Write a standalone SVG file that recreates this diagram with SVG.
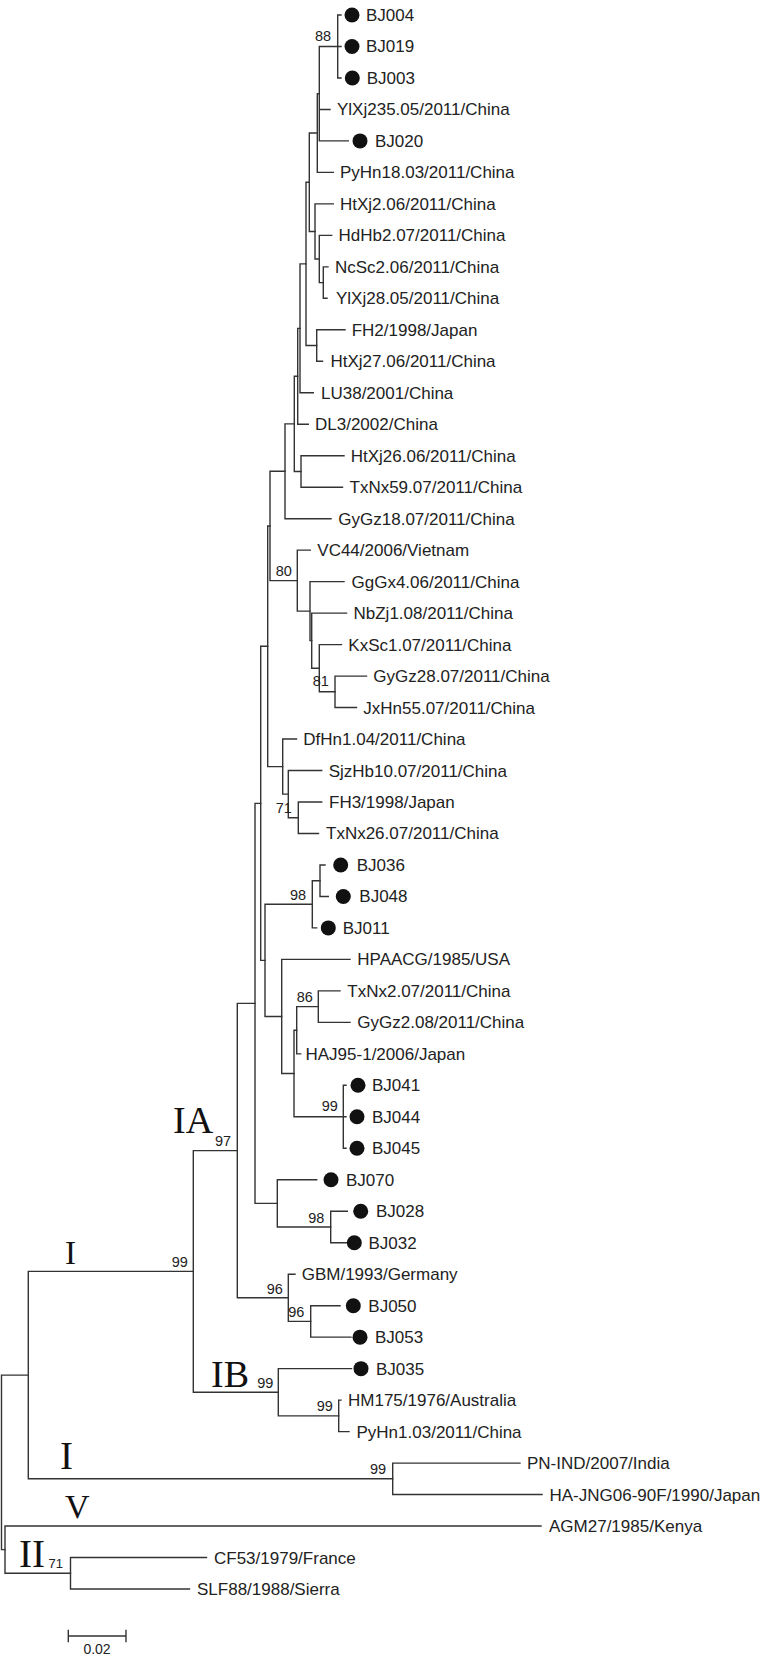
<svg xmlns="http://www.w3.org/2000/svg" width="762" height="1655" viewBox="0 0 762 1655">
<style>
.br{fill:none;stroke:#333;stroke-width:1.4;stroke-linecap:square}
.lb{font-family:"Liberation Sans",Arial,sans-serif;font-size:17px;fill:#222}
.bs{font-family:"Liberation Sans",Arial,sans-serif;font-size:14.5px;fill:#222}
.cl{font-family:"Liberation Serif","Times New Roman",serif;fill:#111}
.dot{fill:#111}
.sc{font-family:"Liberation Sans",Arial,sans-serif;font-size:14px;fill:#222}
</style>
<rect width="762" height="1655" fill="#fff"/>
<g id="branches" class="br">
<path d="M337.7,15V77.96M337.7,15H341M337.7,46.48H341M337.7,77.96H341"/>
<path d="M319.3,46.48V140.92M319.3,46.48H337.7M319.3,109.44H330M319.3,140.92H348.3"/>
<path d="M317.3,93.7V172.4M317.3,93.7H319.3M317.3,172.4H333.3"/>
<path d="M323.3,266.84V298.32M323.3,266.84H328M323.3,298.32H327"/>
<path d="M319.3,235.36V282.58M319.3,235.36H331.7M319.3,282.58H323.3"/>
<path d="M315,203.88V258.97M315,203.88H333.3M315,258.97H319.3"/>
<path d="M309.3,133.05V231.43M309.3,133.05H317.3M309.3,231.43H315"/>
<path d="M316.7,329.8V361.28M316.7,329.8H345M316.7,361.28H322.5"/>
<path d="M306,182.24V345.54M306,182.24H309.3M306,345.54H316.7"/>
<path d="M300,263.89V392.76M300,263.89H306M300,392.76H313.3"/>
<path d="M297.7,328.33V424.24M297.7,328.33H300M297.7,424.24H308.3"/>
<path d="M301,455.72V487.2M301,455.72H344M301,487.2H342.5"/>
<path d="M294.3,376.28V471.46M294.3,376.28H297.7M294.3,471.46H301"/>
<path d="M285,423.87V518.68M285,423.87H294.3M285,518.68H331"/>
<path d="M335,676.08V707.56M335,676.08H366.5M335,707.56H356.5"/>
<path d="M319.3,644.6V691.82M319.3,644.6H341.5M319.3,691.82H335"/>
<path d="M311.7,613.12V668.21M311.7,613.12H346.5M311.7,668.21H319.3"/>
<path d="M310,581.64V640.67M310,581.64H344M310,640.67H311.7"/>
<path d="M297.3,550.16V611.16M297.3,550.16H310.3M297.3,611.16H310"/>
<path d="M270,471.28V580.66M270,471.28H285M270,580.66H297.3"/>
<path d="M298.3,802V833.48M298.3,802H321.7M298.3,833.48H318.5"/>
<path d="M288.3,770.52V817.74M288.3,770.52H321.7M288.3,817.74H298.3"/>
<path d="M282.7,739.04V794.13M282.7,739.04H296.5M282.7,794.13H288.3"/>
<path d="M267.7,525.97V766.59M267.7,525.97H270M267.7,766.59H282.7"/>
<path d="M320,864.96V896.44M320,864.96H325M320,896.44H328.3"/>
<path d="M312.3,880.7V927.92M312.3,880.7H320M312.3,927.92H316.7"/>
<path d="M318.3,990.88V1022.36M318.3,990.88H340M318.3,1022.36H350"/>
<path d="M296.7,1006.62V1053.84M296.7,1006.62H318.3M296.7,1053.84H300.7"/>
<path d="M343.3,1085.32V1148.28M343.3,1085.32H346M343.3,1116.8H346M343.3,1148.28H346"/>
<path d="M294,1030.23V1116.8M294,1030.23H296.7M294,1116.8H343.3"/>
<path d="M281.7,959.4V1073.52M281.7,959.4H350M281.7,1073.52H294"/>
<path d="M265,904.31V1016.46M265,904.31H312.3M265,1016.46H281.7"/>
<path d="M260.7,646.28V960.39M260.7,646.28H267.7M260.7,960.39H265"/>
<path d="M330.7,1211.24V1242.72M330.7,1211.24H347.3M330.7,1242.72H346.7"/>
<path d="M277.3,1179.76V1226.98M277.3,1179.76H316.7M277.3,1226.98H330.7"/>
<path d="M255,803.34V1203.37M255,803.34H260.7M255,1203.37H277.3"/>
<path d="M310.7,1305.68V1337.16M310.7,1305.68H340M310.7,1337.16H351"/>
<path d="M288.3,1274.2V1321.42M288.3,1274.2H295M288.3,1321.42H310.7"/>
<path d="M237.3,1003.36V1297.81M237.3,1003.36H255M237.3,1297.81H288.3"/>
<path d="M338.7,1400.12V1431.6M338.7,1400.12H341M338.7,1431.6H349"/>
<path d="M278.3,1368.64V1415.86M278.3,1368.64H351.5M278.3,1415.86H338.7"/>
<path d="M193.3,1150.59V1392.25M193.3,1150.59H237.3M193.3,1392.25H278.3"/>
<path d="M392.7,1463.08V1494.56M392.7,1463.08H520M392.7,1494.56H542"/>
<path d="M28.3,1271.42V1478.82M28.3,1271.42H193.3M28.3,1478.82H392.7"/>
<path d="M70.5,1557.52V1589M70.5,1557.52H206.5M70.5,1589H189.5"/>
<path d="M5,1526.04V1573.26M5,1526.04H541M5,1573.26H70.5"/>
<path d="M1.5,1375.12V1549.65M1.5,1375.12H28.3M1.5,1549.65H5"/>
</g>
<g id="leaves">
<g id="n0"><circle class="dot" cx="352" cy="15" r="7.5"/><text class="lb" x="366" y="21">BJ004</text></g>
<g id="n1"><circle class="dot" cx="352" cy="46.48" r="7.5"/><text class="lb" x="366" y="52.48">BJ019</text></g>
<g id="n2"><circle class="dot" cx="352.3" cy="77.96" r="7.5"/><text class="lb" x="366.7" y="83.96">BJ003</text></g>
<g id="n3"><text class="lb" x="337" y="115.44">YlXj235.05/2011/China</text></g>
<g id="n4"><circle class="dot" cx="360" cy="140.92" r="7.5"/><text class="lb" x="375" y="146.92">BJ020</text></g>
<g id="n5"><text class="lb" x="340" y="178.4">PyHn18.03/2011/China</text></g>
<g id="n6"><text class="lb" x="340" y="209.88">HtXj2.06/2011/China</text></g>
<g id="n7"><text class="lb" x="338.5" y="241.36">HdHb2.07/2011/China</text></g>
<g id="n8"><text class="lb" x="335" y="272.84">NcSc2.06/2011/China</text></g>
<g id="n9"><text class="lb" x="336" y="304.32">YlXj28.05/2011/China</text></g>
<g id="n10"><text class="lb" x="351.7" y="335.8">FH2/1998/Japan</text></g>
<g id="n11"><text class="lb" x="330.5" y="367.28">HtXj27.06/2011/China</text></g>
<g id="n12"><text class="lb" x="321" y="398.76">LU38/2001/China</text></g>
<g id="n13"><text class="lb" x="315" y="430.24">DL3/2002/China</text></g>
<g id="n14"><text class="lb" x="350.7" y="461.72">HtXj26.06/2011/China</text></g>
<g id="n15"><text class="lb" x="349.5" y="493.2">TxNx59.07/2011/China</text></g>
<g id="n16"><text class="lb" x="338.3" y="524.68">GyGz18.07/2011/China</text></g>
<g id="n17"><text class="lb" x="317.3" y="556.16">VC44/2006/Vietnam</text></g>
<g id="n18"><text class="lb" x="351.5" y="587.64">GgGx4.06/2011/China</text></g>
<g id="n19"><text class="lb" x="353.5" y="619.12">NbZj1.08/2011/China</text></g>
<g id="n20"><text class="lb" x="348.3" y="650.6">KxSc1.07/2011/China</text></g>
<g id="n21"><text class="lb" x="373.3" y="682.08">GyGz28.07/2011/China</text></g>
<g id="n22"><text class="lb" x="363.3" y="713.56">JxHn55.07/2011/China</text></g>
<g id="n23"><text class="lb" x="303.3" y="745.04">DfHn1.04/2011/China</text></g>
<g id="n24"><text class="lb" x="328.7" y="776.52">SjzHb10.07/2011/China</text></g>
<g id="n25"><text class="lb" x="329" y="808">FH3/1998/Japan</text></g>
<g id="n26"><text class="lb" x="326" y="839.48">TxNx26.07/2011/China</text></g>
<g id="n27"><circle class="dot" cx="340.7" cy="864.96" r="7.5"/><text class="lb" x="356.7" y="870.96">BJ036</text></g>
<g id="n28"><circle class="dot" cx="343.3" cy="896.44" r="7.5"/><text class="lb" x="359.3" y="902.44">BJ048</text></g>
<g id="n29"><circle class="dot" cx="328.3" cy="927.92" r="7.5"/><text class="lb" x="342.7" y="933.92">BJ011</text></g>
<g id="n30"><text class="lb" x="357.3" y="965.4">HPAACG/1985/USA</text></g>
<g id="n31"><text class="lb" x="347.3" y="996.88">TxNx2.07/2011/China</text></g>
<g id="n32"><text class="lb" x="357.3" y="1028.36">GyGz2.08/2011/China</text></g>
<g id="n33"><text class="lb" x="305.5" y="1059.84">HAJ95-1/2006/Japan</text></g>
<g id="n34"><circle class="dot" cx="358" cy="1085.32" r="7.5"/><text class="lb" x="372" y="1091.32">BJ041</text></g>
<g id="n35"><circle class="dot" cx="357" cy="1116.8" r="7.5"/><text class="lb" x="372" y="1122.8">BJ044</text></g>
<g id="n36"><circle class="dot" cx="357" cy="1148.28" r="7.5"/><text class="lb" x="372" y="1154.28">BJ045</text></g>
<g id="n37"><circle class="dot" cx="331" cy="1179.76" r="7.5"/><text class="lb" x="346" y="1185.76">BJ070</text></g>
<g id="n38"><circle class="dot" cx="360.7" cy="1211.24" r="7.5"/><text class="lb" x="376" y="1217.24">BJ028</text></g>
<g id="n39"><circle class="dot" cx="354.3" cy="1242.72" r="7.5"/><text class="lb" x="368.5" y="1248.72">BJ032</text></g>
<g id="n40"><text class="lb" x="301.7" y="1280.2">GBM/1993/Germany</text></g>
<g id="n41"><circle class="dot" cx="353.3" cy="1305.68" r="7.5"/><text class="lb" x="368.3" y="1311.68">BJ050</text></g>
<g id="n42"><circle class="dot" cx="360" cy="1337.16" r="7.5"/><text class="lb" x="375" y="1343.16">BJ053</text></g>
<g id="n43"><circle class="dot" cx="361" cy="1368.64" r="7.5"/><text class="lb" x="376" y="1374.64">BJ035</text></g>
<g id="n44"><text class="lb" x="348" y="1406.12">HM175/1976/Australia</text></g>
<g id="n45"><text class="lb" x="356.5" y="1437.6">PyHn1.03/2011/China</text></g>
<g id="n46"><text class="lb" x="527" y="1469.08">PN-IND/2007/India</text></g>
<g id="n47"><text class="lb" x="549.5" y="1500.56">HA-JNG06-90F/1990/Japan</text></g>
<g id="n48"><text class="lb" x="549" y="1532.04">AGM27/1985/Kenya</text></g>
<g id="n49"><text class="lb" x="214" y="1563.52">CF53/1979/France</text></g>
<g id="n50"><text class="lb" x="197" y="1595">SLF88/1988/Sierra</text></g>
</g>
<g id="bootstrap" class="bs">
<text x="315" y="40.5">88</text>
<text x="275.7" y="576">80</text>
<text x="312.7" y="686">81</text>
<text x="275.7" y="813">71</text>
<text x="290" y="899.5">98</text>
<text x="296.7" y="1002">86</text>
<text x="321.7" y="1111">99</text>
<text x="215" y="1146">97</text>
<text x="308.3" y="1222.5">98</text>
<text x="171.7" y="1267">99</text>
<text x="266.7" y="1293.5">96</text>
<text x="288.3" y="1317">96</text>
<text x="257.3" y="1387.5">99</text>
<text x="316.8" y="1411">99</text>
<text x="370" y="1474">99</text>
<text x="48.6" y="1568" style="font-size:13px">71</text>
</g>
<g id="clades" class="cl">
<text x="173" y="1133.3" style="font-size:38px">IA</text>
<text x="65" y="1264" style="font-size:33px">I</text>
<text x="211" y="1386.7" style="font-size:38px">IB</text>
<text x="60" y="1469.3" style="font-size:39px">I</text>
<text x="65" y="1518.3" style="font-size:34px">V</text>
<text x="19" y="1566.7" style="font-size:39px">II</text>
</g>
<g id="scalebar">
<path class="br" d="M68.3,1636H126M68.3,1630.5V1641.5M126,1630.5V1641.5"/>
<text class="sc" x="97" y="1654" text-anchor="middle">0.02</text>
</g>
</svg>
